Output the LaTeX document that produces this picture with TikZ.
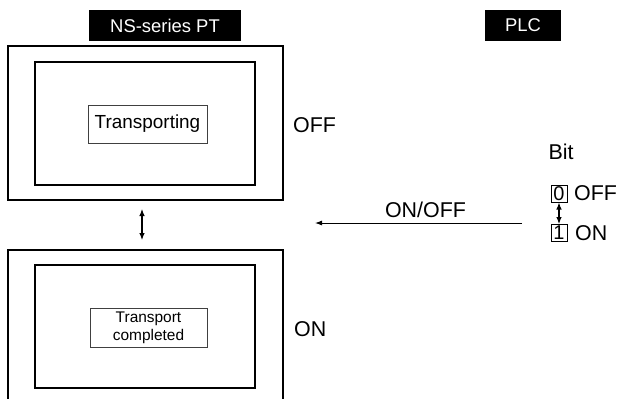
\documentclass[tikz,border=0pt]{standalone}
\usepackage{fontspec}
\setmainfont{Liberation Sans}
\usetikzlibrary{arrows.meta}
\tikzset{
  x=1bp, y=-1bp,
  header/.style={fill=black, text=white, inner sep=0pt, font=\fontsize{18.5}{20}\selectfont},
  outerbox/.style={draw, line width=1.3bp, inner sep=0pt},
  innerbox/.style={draw, line width=1.8bp, inner sep=0pt},
  msgbox/.style={draw=black!75, line width=0.9bp, inner sep=0pt, fill=white},
  biglabel/.style={inner sep=0pt, anchor=west, font=\fontsize{21.5}{23}\selectfont},
  bitbox/.style={draw, line width=1bp, inner sep=0pt, minimum width=16bp, minimum height=17bp, font=\fontsize{20}{20}\selectfont},
  dblarrow/.style={line width=1.1bp, {Latex[length=7bp,width=5.5bp]}-{Latex[length=7bp,width=5.5bp]}},
  sigarrow/.style={line width=0.9bp, -{Latex[length=7bp,width=5bp]}}
}
\begin{document}
\begin{tikzpicture}
\clip (0,0) rectangle (631,398);
\fill[white] (0,0) rectangle (631,398);
% headers
\node[header, minimum width=152bp, minimum height=31bp] (nshead) at (165,25.5) {NS-series PT};
\node[header, minimum width=76bp, minimum height=31bp] (plchead) at (523,25.5) {PLC};
% upper screen
\node[outerbox, minimum width=275bp, minimum height=154bp] (outA) at (145.5,123) {};
\node[innerbox, minimum width=220bp, minimum height=123bp] (inA) at (145,123.5) {};
\node[msgbox, minimum width=119bp, minimum height=38bp, font=\fontsize{19}{20}\selectfont] (msgA) at (147.5,124) {Transporting};
% lower screen
\node[outerbox, minimum width=275bp, minimum height=154bp] (outB) at (145.5,327) {};
\node[innerbox, minimum width=220bp, minimum height=123bp] (inB) at (145,326.5) {};
\node[msgbox, minimum width=117bp, minimum height=39bp, align=center, font=\fontsize{15.5}{18}\selectfont] (msgB) at (148.5,327.5) {Transport\\completed};
% state labels
\node[biglabel] (offA) at (293,125.5) {OFF};
\node[biglabel] (onB) at (294,329) {ON};
% arrow between screens
\coordinate (sa) at (142,209);
\coordinate (sb) at (142,240);
\draw[dblarrow] (sa) -- (sb);
% bit
\node[inner sep=0pt, font=\fontsize{21.5}{23}\selectfont] (bit) at (561,151.5) {Bit};
\node[bitbox] (b0) at (559,193.5) {0};
\node[bitbox] (b1) at (559,233) {1};
\node[biglabel] (boff) at (574,193.5) {OFF};
\node[biglabel] (bon) at (575,233) {ON};
\draw[dblarrow] (b0.south) -- (b1.north);
% signal arrow
\coordinate (sigR) at (522,223);
\coordinate (sigL) at (315,223);
\draw[sigarrow] (sigR) -- (sigL);
\node[inner sep=0pt, font=\fontsize{21.5}{23}\selectfont] (onoff) at (425.5,210) {ON/OFF};
\end{tikzpicture}
\end{document}
